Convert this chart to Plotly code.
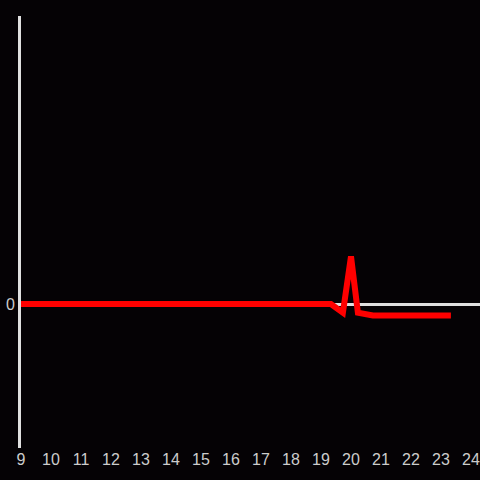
import plotly.graph_objects as go

x_vals = [9, 10, 11, 12, 13, 14, 15, 16, 17, 18, 19, 19.33, 19.73, 20.0, 20.23, 20.73, 21, 22, 23, 23.33]
y_vals = [0, 0, 0, 0, 0, 0, 0, 0, 0, 0, 0, 0, -0.06, 0.33, -0.06, -0.08, -0.08, -0.08, -0.08, -0.08]
x_ticks = list(range(9, 25))

fig = go.Figure()
fig.add_trace(go.Scatter(x=x_vals, y=y_vals, mode="lines",
                         line=dict(color="#ff0000", width=6), hoverinfo="skip"))

fig.update_layout(
    width=480, height=480,
    margin=dict(l=21, r=0, t=16, b=32),
    paper_bgcolor="#050205", plot_bgcolor="#050205",
    showlegend=False,
    font=dict(family="Liberation Sans", size=16, color="#cccccc"),
    xaxis=dict(range=[9, 24.3], tickvals=x_ticks, showgrid=False, zeroline=False,
               showline=False, ticks="", tickfont=dict(size=16, color="#cccccc")),
    yaxis=dict(range=[-1, 2], tickvals=[0], showgrid=False, zeroline=True,
               zerolinecolor="#e0e0e0", zerolinewidth=3,
               showline=True, linecolor="#e0e0e0", linewidth=3, ticks="",
               tickfont=dict(size=16, color="#cccccc")),
)
fig.write_html("out.html", config={"displayModeBar": False},
               post_script="document.body.style.margin='0';document.body.style.overflow='hidden';")
